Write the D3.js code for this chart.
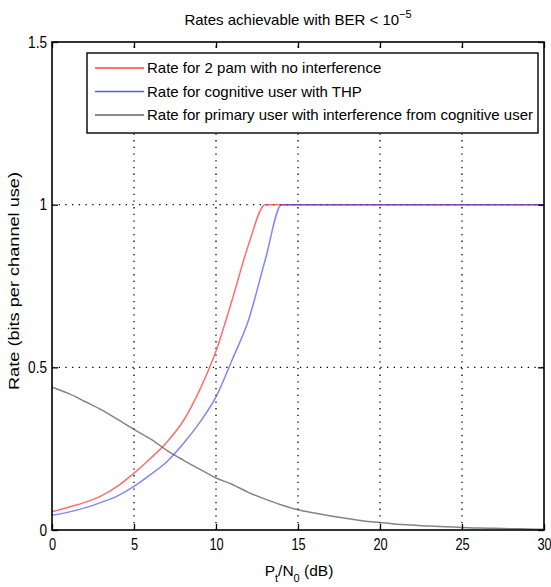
<!DOCTYPE html>
<html>
<head>
<meta charset="utf-8">
<script src="https://cdn.jsdelivr.net/npm/d3@7"></script>
<style>
  body { margin: 0; background: #fff; }
  text { font-family: "Liberation Sans", Arial, sans-serif; fill: #000; }
</style>
</head>
<body>
<div id="chart"></div>
<script>
// Data
const snr = [0, 1, 2, 3, 4, 5, 6, 7, 8, 9, 10, 11, 12, 13, 14, 15, 16, 17, 18, 19, 20, 21, 22, 23, 24, 25, 26, 27, 28, 29, 30];
const ratePam = [0.056, 0.07, 0.085, 0.105, 0.135, 0.175, 0.22, 0.27, 0.335, 0.43, 0.55, 0.71, 0.88, 1, 1, 1, 1, 1, 1, 1, 1, 1, 1, 1, 1, 1, 1, 1, 1, 1, 1];
const rateThp = [0.045, 0.055, 0.068, 0.085, 0.105, 0.134, 0.17, 0.21, 0.265, 0.33, 0.409, 0.525, 0.648, 0.83, 1, 1, 1, 1, 1, 1, 1, 1, 1, 1, 1, 1, 1, 1, 1, 1, 1];
const ratePrimary = [0.439, 0.42, 0.395, 0.37, 0.34, 0.309, 0.28, 0.245, 0.215, 0.187, 0.16, 0.14, 0.115, 0.095, 0.077, 0.062, 0.052, 0.043, 0.035, 0.028, 0.023, 0.018, 0.015, 0.012, 0.01, 0.008, 0.006, 0.005, 0.004, 0.003, 0.002];

const seriesNames = [
  "Rate for 2 pam with no interference",
  "Rate for cognitive user with THP",
  "Rate for primary user with interference from cognitive user"
];
const seriesColors = ["#ff3030", "#3030ff", "#505050"];
const seriesOpacity = [0.7, 0.6, 0.7];
const xTicks = [0, 5, 10, 15, 20, 25, 30];
const yTicks = [0, 0.5, 1, 1.5];

const width = 551;
const height = 587;
const margin = { top: 42, right: 7, bottom: 57, left: 52 };

const svg = d3.select("#chart")
  .append("svg")
  .attr("width", width)
  .attr("height", height);

const x = d3.scaleLinear().domain([0, 30]).range([margin.left, width - margin.right]);
const y = d3.scaleLinear().domain([0, 1.5]).range([height - margin.bottom, margin.top]);

// squeeze single-run text horizontally (the original looks condensed)
function squeeze(sel, factor) {
  sel.each(function () {
    const w = this.getComputedTextLength();
    d3.select(this).attr("textLength", w * factor).attr("lengthAdjust", "spacingAndGlyphs");
  });
}

// Grid (dotted)
svg.append("g")
  .selectAll("line")
  .data(xTicks.slice(1, -1))
  .join("line")
  .attr("x1", d => x(d)).attr("x2", d => x(d))
  .attr("y1", y(0)).attr("y2", y(1.5))
  .attr("stroke", "#000")
  .attr("stroke-width", 1.3)
  .attr("stroke-dasharray", "1.3,5.4");

svg.append("g")
  .selectAll("line")
  .data(yTicks.slice(1, -1))
  .join("line")
  .attr("x1", x(0)).attr("x2", x(30))
  .attr("y1", d => y(d)).attr("y2", d => y(d))
  .attr("stroke", "#000")
  .attr("stroke-width", 1.3)
  .attr("stroke-dasharray", "1.3,5.4");

// Curves
const line = d3.line()
  .x((d, i) => x(snr[i]))
  .y(d => y(d))
  .curve(d3.curveMonotoneX);

[ratePam, rateThp, ratePrimary].forEach((vals, k) => {
  svg.append("path")
    .datum(vals)
    .attr("fill", "none")
    .attr("stroke", seriesColors[k])
    .attr("stroke-opacity", seriesOpacity[k])
    .attr("stroke-width", 1.5)
    .attr("d", line);
});

// Axes (MATLAB style: ticks inward on all sides)
const tickLen = 6;
svg.append("g")
  .attr("transform", `translate(0,${y(0)})`)
  .call(d3.axisBottom(x).tickValues(xTicks).tickSize(-tickLen).tickPadding(9).tickFormat(d3.format("d")))
  .call(g => g.select(".domain").remove())
  .call(g => g.selectAll("text").style("font-size", "16px").call(squeeze, 0.8));

svg.append("g")
  .attr("transform", `translate(0,${y(1.5)})`)
  .call(d3.axisTop(x).tickValues(xTicks).tickSize(-tickLen).tickFormat(""))
  .call(g => g.select(".domain").remove());

svg.append("g")
  .attr("transform", `translate(${x(0)},0)`)
  .call(d3.axisLeft(y).tickValues(yTicks).tickSize(-tickLen).tickPadding(5).tickFormat(d => String(d)))
  .call(g => g.select(".domain").remove())
  .call(g => g.selectAll("text").style("font-size", "16px").call(squeeze, 0.85));

svg.append("g")
  .attr("transform", `translate(${x(30)},0)`)
  .call(d3.axisRight(y).tickValues(yTicks).tickSize(-tickLen).tickFormat(""))
  .call(g => g.select(".domain").remove());

svg.selectAll(".tick line").attr("stroke", "#000").attr("stroke-width", 1.3);

// Frame
svg.append("rect")
  .attr("x", x(0)).attr("y", y(1.5))
  .attr("width", x(30) - x(0)).attr("height", y(0) - y(1.5))
  .attr("fill", "none")
  .attr("stroke", "#000")
  .attr("stroke-width", 1.6);

// Legend
const legend = svg.append("g").attr("transform", "translate(87,53)");
legend.append("rect")
  .attr("width", 451).attr("height", 80)
  .attr("fill", "#fff")
  .attr("stroke", "#000")
  .attr("stroke-width", 1.4);

seriesNames.forEach((name, k) => {
  const row = legend.append("g").attr("transform", `translate(0,${15 + k * 23.5})`);
  row.append("line")
    .attr("x1", 8).attr("x2", 57)
    .attr("stroke", seriesColors[k])
    .attr("stroke-opacity", Math.min(1, seriesOpacity[k] + 0.2))
    .attr("stroke-width", 1.5);
  row.append("text")
    .attr("x", 60).attr("dy", "0.36em")
    .style("font-size", "15px")
    .text(name);
});

// Title
const title = svg.append("text")
  .attr("x", 298).attr("y", 25)
  .attr("text-anchor", "middle")
  .style("font-size", "15px")
  .text("Rates achievable with BER < 10");
title.append("tspan")
  .attr("dy", -7)
  .style("font-size", "11px")
  .text("−5");

// X label
const xl = svg.append("text")
  .attr("x", 299).attr("y", 576)
  .attr("text-anchor", "middle")
  .style("font-size", "15.5px");
xl.append("tspan").text("P");
xl.append("tspan").attr("dy", 6).style("font-size", "11px").text("t");
xl.append("tspan").attr("dy", -6).text("/N");
xl.append("tspan").attr("dy", 6).style("font-size", "11px").text("0");
xl.append("tspan").attr("dy", -6).text(" (dB)");

// Y label
svg.append("text")
  .attr("transform", `translate(19,281) rotate(-90)`)
  .attr("text-anchor", "middle")
  .style("font-size", "15px")
  .attr("textLength", 218)
  .attr("lengthAdjust", "spacingAndGlyphs")
  .text("Rate (bits per channel use)");
</script>
</body>
</html>
